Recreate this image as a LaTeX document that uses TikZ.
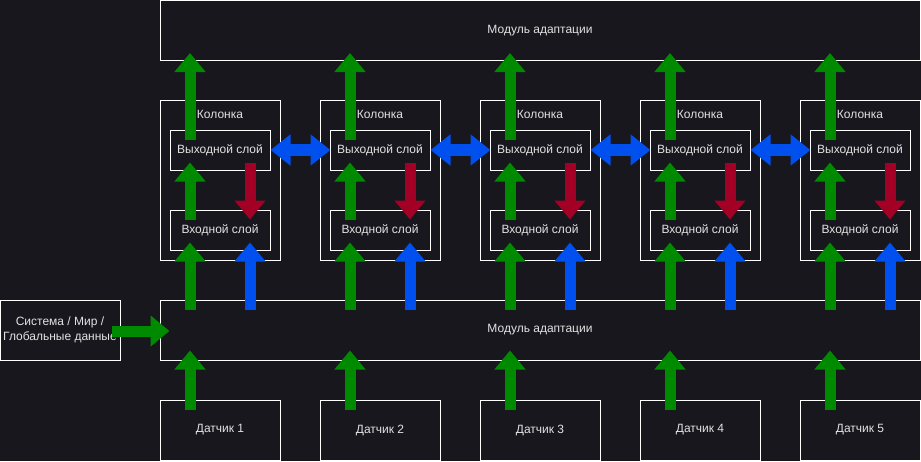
\documentclass[tikz,border=0pt]{standalone}
\usepackage{fontspec}
\setmainfont{Liberation Sans}
\usetikzlibrary{arrows.meta,calc}
\definecolor{bg}{RGB}{24,23,30}
\definecolor{agreen}{HTML}{008A00}
\definecolor{ared}{HTML}{A20025}
\definecolor{ablue}{HTML}{0050EF}
\definecolor{txt}{HTML}{E2E2E2}
\begin{document}
\begin{tikzpicture}[x=0.75pt,y=-0.75pt,
  every node/.style={text=txt, font=\fontsize{9pt}{11pt}\selectfont},
  frame/.style={draw=white, line width=0.75pt, inner sep=0pt},
  modbox/.style={frame, minimum width=570pt, minimum height=45pt},
  colbox/.style={frame, minimum width=90pt, minimum height=120pt},
  laybox/.style={frame, minimum width=75pt, minimum height=30pt},
  senbox/.style={frame, minimum width=90pt, minimum height=45pt},
  garrow/.style={draw=agreen, line width=8.25pt, -{Triangle[width=22.5pt,length=14.25pt]}},
  rarrow/.style={draw=ared, line width=8.25pt, -{Triangle[width=22.5pt,length=14.25pt]}},
  barrow/.style={draw=ablue, line width=8.25pt, -{Triangle[width=22.5pt,length=14.25pt]}},
  bdarrow/.style={draw=ablue, line width=9pt, {Triangle[width=22.5pt,length=15pt]}-{Triangle[width=22.5pt,length=15pt]}}
]
\fill[bg] (0,0) rectangle (921,461);
\useasboundingbox (0,0) rectangle (921,461);

\node[modbox] (top) at (540,30.5) {Модуль адаптации};
\node[modbox] (bot) at (540,330) {Модуль адаптации};
\node[senbox, align=center] (sys) at (60,330) {Система / Мир /\\Глобальные данные};

\foreach \i in {1,...,5}{
  \pgfmathsetmacro{\cx}{220+160*(\i-1)}
  \node[colbox, label={[text=txt, anchor=center, yshift=-11.25pt]north:Колонка}] (col\i) at (\cx,180) {};
  \node[laybox] (out\i) at (\cx,150) {Выходной слой};
  \node[laybox] (in\i) at (\cx,230) {Входной слой};
  \node[senbox] (sen\i) at (\cx,430) {Датчик \i};
}

\foreach \i in {1,...,5}{
  \draw[garrow] ($(out\i.north)+(-30,10)$) -- ($(top.south -| out\i.north)+(-30,-8)$);
  \draw[garrow] ($(in\i.north)+(-30,10)$) -- ($(out\i.south)+(-30,-8)$);
  \draw[garrow] ($(bot.north -| in\i.south)+(-30,10)$) -- ($(in\i.south)+(-30,-8)$);
  \draw[rarrow] ($(out\i.south)+(30,-8)$) -- ($(in\i.north)+(30,10)$);
  \draw[barrow] ($(bot.north -| in\i.south)+(30,10)$) -- ($(in\i.south)+(30,-8)$);
  \draw[garrow] ($(sen\i.north)+(-30,10)$) -- ($(bot.south -| sen\i.north)+(-30,-10)$);
}
\foreach \i [evaluate=\i as \j using int(\i+1)] in {1,...,4}{
  \draw[bdarrow] ($(out\i.east)+(0,0)$) -- ($(out\j.west)+(1,0)$);
}
\draw[garrow] ($(sys.east)+(-9,1)$) -- ($(bot.west)+(10,1)$);
\end{tikzpicture}
\end{document}
